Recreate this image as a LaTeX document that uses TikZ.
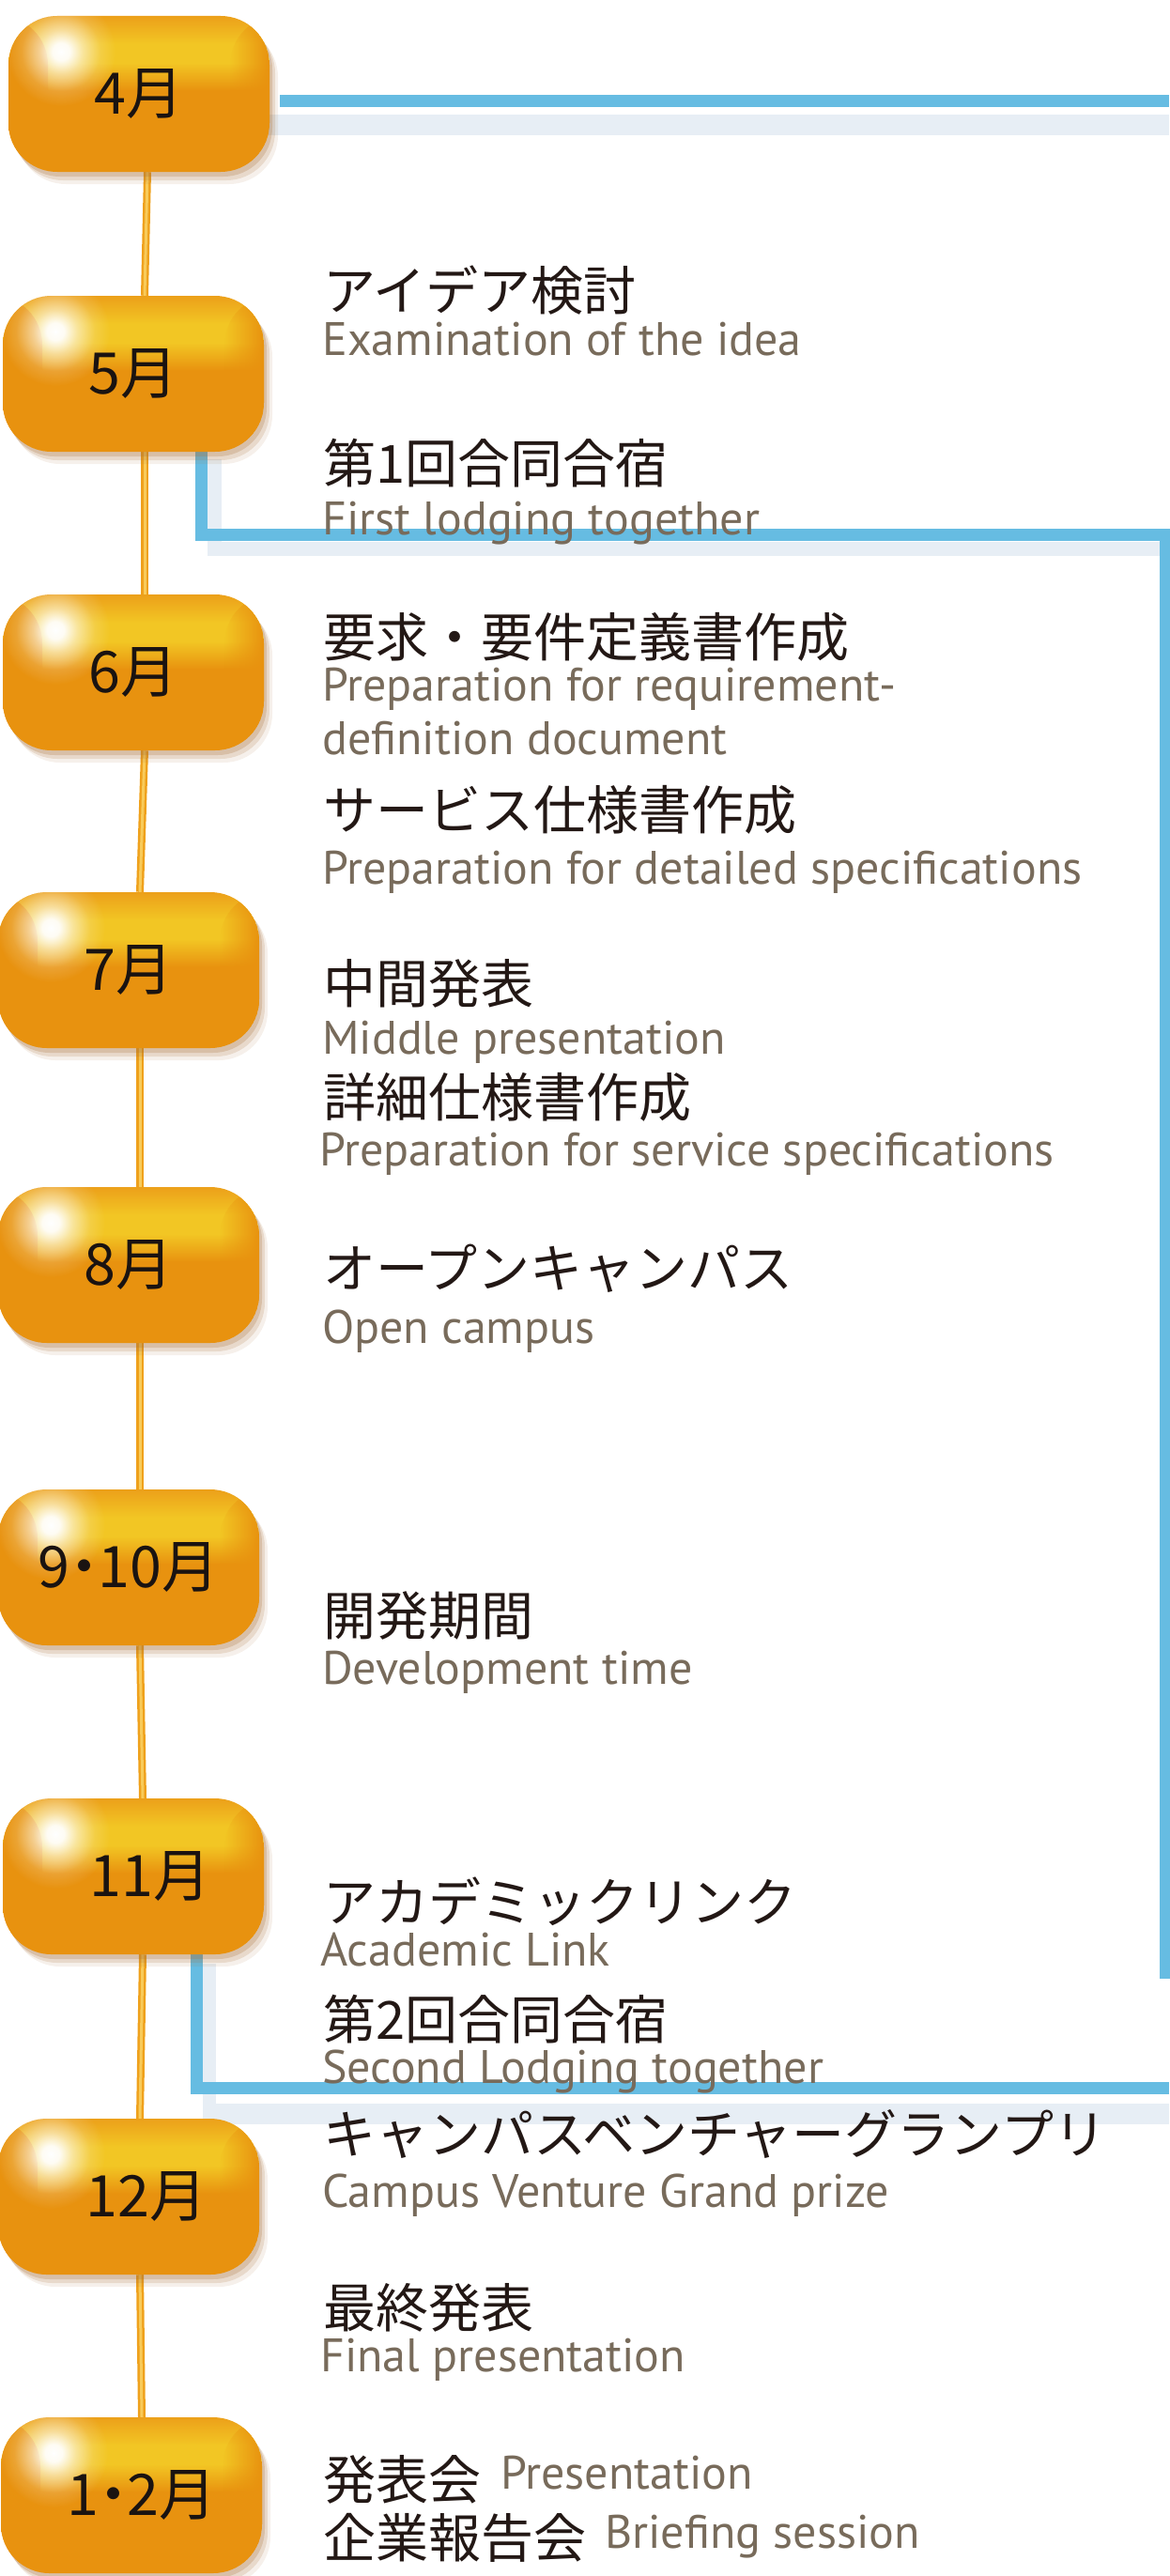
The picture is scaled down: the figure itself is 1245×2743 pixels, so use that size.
\documentclass[tikz,border=0pt]{standalone}
\usepackage{fontspec}
\setmainfont{PT Sans}
\newfontfamily\jpfont{Noto Sans CJK JP}
\newfontfamily\monthfont[RawFeature=+palt]{Noto Sans CJK JP}
\newfontfamily\enfont{PT Sans}
\usetikzlibrary{shadows,fadings,backgrounds}

\definecolor{pillorange}{HTML}{E8920F}
\definecolor{pillyellow}{HTML}{F2C624}
\definecolor{pilltop}{HTML}{ECA01A}
\definecolor{shadowbrown}{HTML}{A8703A}
\definecolor{linkblue}{HTML}{66BCE2}
\definecolor{linkshadow}{HTML}{E7EEF5}
\definecolor{jptext}{HTML}{231815}
\definecolor{entext}{HTML}{786B5B}
\definecolor{monthtext}{HTML}{1A1311}
\definecolor{stemorange}{HTML}{EFA11C}
\definecolor{stemlight}{HTML}{F8CB5A}

\pgfdeclareverticalshading{pillshade}{100bp}{color(0bp)=(pillorange); color(51bp)=(pillorange); color(60bp)=(pillyellow); color(66bp)=(pillyellow); color(75bp)=(pilltop); color(100bp)=(pilltop)}
\pgfdeclareradialshading{glowshade}{\pgfpointorigin}{color(0bp)=(white); color(4bp)=(white!95!black); color(10bp)=(white!55!black); color(18bp)=(white!15!black); color(25bp)=(black); color(50bp)=(black)}
\pgfdeclarefading{glowfade}{\pgfuseshading{glowshade}}

\begin{document}
\begin{tikzpicture}[x=1pt,y=-1pt,
  pill/.style={shade, shading=pillshade, rounded corners=52pt,
    minimum width=278pt, minimum height=166pt, inner sep=0pt,
    text=monthtext, font=\monthfont\fontsize{61}{64}\selectfont,
    drop shadow={shadow xshift=3pt, shadow yshift=-5pt, opacity=.25, fill=shadowbrown},
    drop shadow={shadow xshift=6pt, shadow yshift=-9pt, opacity=.18, fill=shadowbrown},
    drop shadow={shadow xshift=9pt, shadow yshift=-13pt, opacity=.1, fill=shadowbrown},
    path picture={
      \fill[pillorange, path fading=east] (path picture bounding box.north west) rectangle ([xshift=42pt]path picture bounding box.south west);
      \fill[pillorange, path fading=west] ([xshift=-42pt]path picture bounding box.north east) rectangle (path picture bounding box.south east);
      \fill[white, path fading=glowfade] ([xshift=56pt,yshift=-38pt]path picture bounding box.north west) circle (58pt);
    }},
  jp/.style={anchor=base west, inner sep=0pt, text=jptext, font=\jpfont\fontsize{56}{60}\selectfont},
  en/.style={anchor=base west, inner sep=0pt, text=entext, font=\enfont\fontsize{50}{55}\selectfont},
  bluelink/.style={draw=linkblue, line width=13pt, line cap=butt, line join=miter},
  blueshadow/.style={draw=linkshadow, line width=#1, line cap=butt, line join=miter},
  stem/.style={draw=stemorange, double=stemlight, double distance=3pt, line width=2.5pt}
]
\useasboundingbox (0,0) rectangle (1245,2743);

% month pills
\node[pill] (m4)  at (148,100)  {4月};
\node[pill] (m5)  at (142,398)  {5月};
\node[pill] (m6)  at (142,716)  {6月};
\node[pill] (m7)  at (137,1033) {7月};
\node[pill] (m8)  at (137,1347) {8月};
\node[pill] (m9)  at (137,1669) {9・10月};
\node[pill] (m11) at (142,1998) {\kern36pt 11月};
\node[pill] (m12) at (137,2339) {\kern38pt 12月};
\node[pill] (m1)  at (140,2657) {\kern22pt 1・2月};

% event texts
\node[jp] (t1j) at (344,330)  {アイデア検討};
\node[en] (t1e) at (343,378)  {Examination of the idea};
\node[jp] (t2j) at (344,514)  {第1回合同合宿};
\node[en] (t2e) at (343,569)  {First lodging together};
\node[jp] (t3j) at (344,699)  {要求・要件定義書作成};
\node[en] (t3e) at (343,746)  {Preparation for requirement-};
\node[en] (t3f) at (343,803)  {definition document};
\node[jp] (t4j) at (344,883)  {サービス仕様書作成};
\node[en] (t4e) at (343,941)  {Preparation for detailed specifications};
\node[jp] (t5j) at (344,1068) {中間発表};
\node[en] (t5e) at (343,1122) {Middle presentation};
\node[jp] (t6j) at (344,1189) {詳細仕様書作成};
\node[en] (t6e) at (340,1241) {Preparation for service specifications};
\node[jp] (t7j) at (344,1371) {オープンキャンパス};
\node[en] (t7e) at (343,1430) {Open campus};
\node[jp] (t8j) at (344,1741) {開発期間};
\node[en] (t8e) at (343,1793) {Development time};
\node[jp] (t9j) at (344,2046) {アカデミックリンク};
\node[en] (t9e) at (341,2093) {Academic Link};
\node[jp] (t10j) at (344,2171) {第2回合同合宿};
\node[en] (t10e) at (343,2218) {Second Lodging together};
\node[jp] (t11j) at (344,2293) {キャンパスベンチャーグランプリ};
\node[en] (t11e) at (343,2350) {Campus Venture Grand prize};
\node[jp] (t12j) at (344,2478) {最終発表};
\node[en] (t12e) at (341,2525) {Final presentation};
\node[jp] (t13j) at (344,2661) {発表会};
\node[en] (t13e) at (533,2650) {Presentation};
\node[jp] (t14j) at (344,2723) {企業報告会};
\node[en] (t14e) at (644,2713) {Briefing session};

% free ends of the blue links
\coordinate (aend) at (1245,108);
\coordinate (ashadowend) at (1245,133);
\coordinate (bcorner) at (1241,569);
\coordinate (bend) at (1241,2107);
\coordinate (bshadowend) at (1236,584);
\coordinate (cend) at (1245,2223);
\coordinate (cshadowend) at (1245,2251);

\begin{pgfonlayer}{background}
  % shadows of blue links
  \draw[blueshadow=22pt] ([xshift=-1pt,yshift=-33pt]m4.east) -- (ashadowend);
  \draw[blueshadow=15pt] ([xshift=86pt,yshift=-8pt]m5.south) |- (bshadowend);
  \draw[blueshadow=14pt] ([xshift=81pt,yshift=-10pt]m11.south) -- ([xshift=81pt]m11.south |- cshadowend);
  \draw[blueshadow=22pt] ([xshift=74pt]m11.south |- cshadowend) -- (cshadowend);
  % blue links
  \draw[bluelink] ([xshift=11pt,yshift=-8pt]m4.east) -- (aend);
  \draw[bluelink] ([xshift=72pt]m5.south) |- (bcorner) -- (bend);
  \draw[bluelink] ([xshift=67pt]m11.south) |- (cend);
  % orange stem
  \draw[stem] ([xshift=9pt]m4.south) -- ([xshift=12pt]m5.north);
  \draw[stem] ([xshift=12pt]m5.south) -- ([xshift=12pt]m6.north);
  \draw[stem] ([xshift=12pt]m6.south) -- ([xshift=12pt]m7.north);
  \draw[stem] ([xshift=12pt]m7.south) -- ([xshift=12pt]m8.north);
  \draw[stem] ([xshift=12pt]m8.south) -- ([xshift=12pt]m9.north);
  \draw[stem] ([xshift=12pt]m9.south) -- ([xshift=10pt]m11.north);
  \draw[stem] ([xshift=10pt]m11.south) -- ([xshift=12pt]m12.north);
  \draw[stem] ([xshift=12pt]m12.south) -- ([xshift=11pt]m1.north);
\end{pgfonlayer}
\end{tikzpicture}
\end{document}
